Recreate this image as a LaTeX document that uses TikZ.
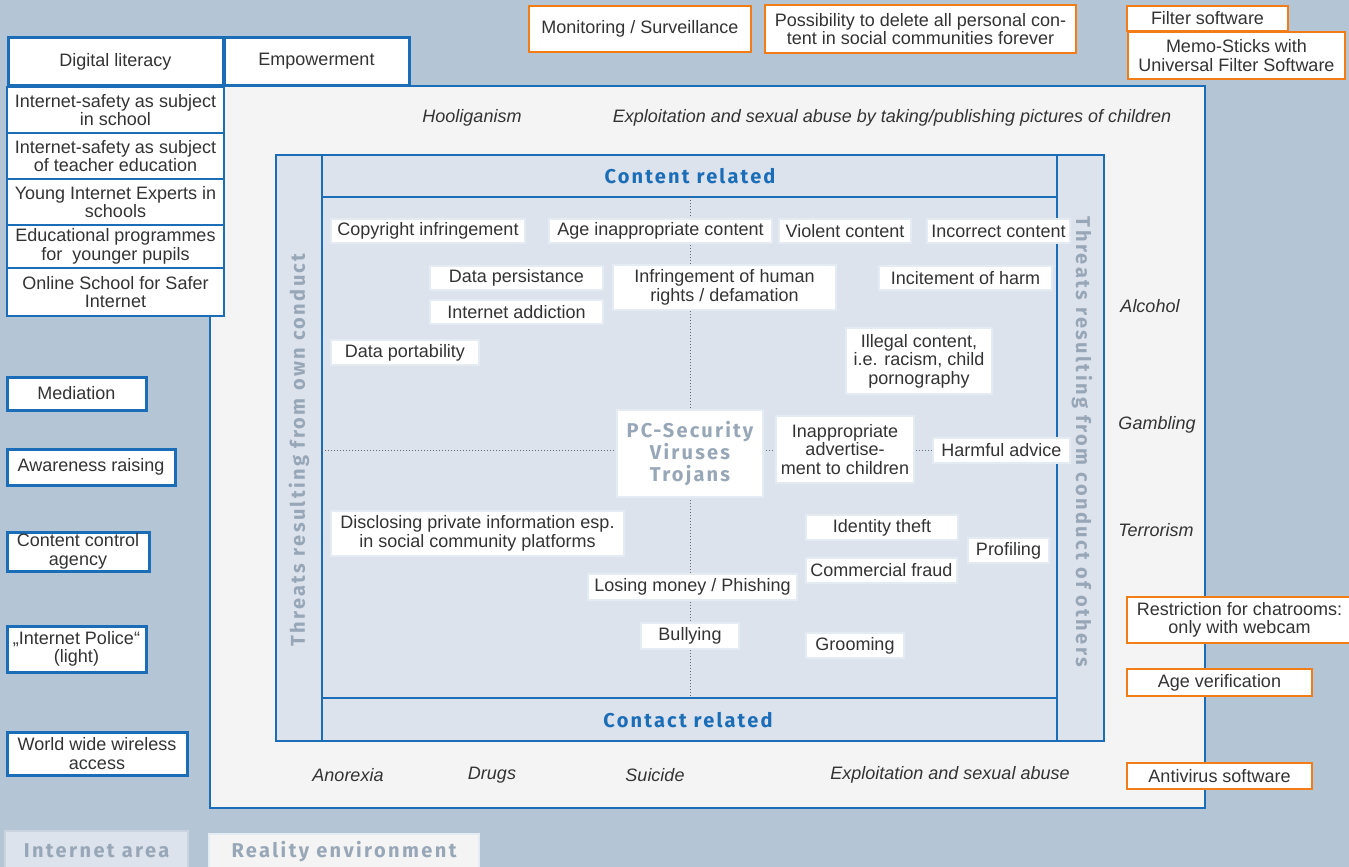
\documentclass[tikz,border=0pt]{standalone}
\usepackage{fontspec}
\setmainfont{Liberation Sans}
\newfontfamily\headfont[LetterSpace=11]{Fira Sans}
\newfontfamily\vheadfont[LetterSpace=12]{Fira Sans}
\definecolor{bg}{HTML}{B4C5D6}
\definecolor{reality}{HTML}{F4F4F4}
\definecolor{innerc}{HTML}{DCE3ED}
\definecolor{blue1}{HTML}{1A6DB6}
\definecolor{orange1}{HTML}{F27C16}
\definecolor{txt}{HTML}{333333}
\definecolor{grayhead}{HTML}{98A7B7}
\definecolor{halo}{HTML}{E5EBF2}
\definecolor{dotc}{HTML}{6A6A6A}
\definecolor{tabedge}{HTML}{C9D4E0}
\tikzset{
 base/.style={inner sep=0pt, align=center, text=txt, font=\fontsize{18}{18.5}\selectfont},
 wbox/.style={base, draw=halo, line width=2pt, fill=white},
 bbox/.style={base, draw=blue1, line width=3pt, fill=white},
 lbox/.style={base, draw=blue1, line width=1.2pt, fill=white},
 obox/.style={base, draw=orange1, line width=2.5pt, fill=white},
 tbox/.style={base, draw=orange1, line width=1.2pt, fill=white},
 ital/.style={base, font=\fontsize{18}{18.5}\selectfont\itshape},
 head/.style={inner sep=0pt, text=blue1, font=\headfont\bfseries\fontsize{20}{22}\selectfont},
 vhead/.style={inner sep=0pt, align=center, text=grayhead, font=\vheadfont\bfseries\fontsize{20}{22}\selectfont},
 axisline/.style={draw=dotc, dotted, line width=1pt},
 frameline/.style={draw=blue1, line width=1.2pt},
}
\begin{document}
\begin{tikzpicture}[x=1pt,y=-1pt]
\useasboundingbox (0,0) rectangle (1349,867);
\fill[bg] (0,0) rectangle (1349,867);

% reality environment
\draw[fill=reality, draw=blue1, line width=2.5pt] (210,86) rectangle (1205,808);
% inner grid
\draw[fill=innerc, frameline] (276,155) rectangle (1104,741);
\draw[frameline] (322,155) -- (322,741);
\draw[frameline] (1057,155) -- (1057,741);
\draw[frameline] (322,197) -- (1057,197);
\draw[frameline] (322,698) -- (1057,698);

% axes
\coordinate (vt) at (690,197);
\coordinate (vb) at (690,698);
\coordinate (hl) at (322,450);
\coordinate (hr) at (1057,450);
\draw[axisline] (vt) -- (vb);
\draw[axisline] (hl) -- (hr);

% headings
\node[head] (contenth) at (690,176) {Content related};
\node[head] (contacth) at (688,720) {Contact related};
\node[vhead, rotate=90] (ownc) at (299,450) {Threats resulting from own conduct};
\node[vhead, rotate=-90] (othc) at (1082,442) {Threats resulting from conduct of others};

% inner boxes
\node[wbox, minimum width=194, minimum height=24] (copy) at (428,231) {Copyright infringement};
\node[wbox, minimum width=223, minimum height=24] (age) at (660.5,231) {Age inappropriate content};
\node[wbox, minimum width=132, minimum height=24] (viol) at (845,231) {Violent content};
\node[wbox, minimum width=143, minimum height=24] (incor) at (998.5,231) {Incorrect content};
\node[wbox, minimum width=173, minimum height=24] (persist) at (516.5,278) {Data persistance};
\node[wbox, minimum width=173, minimum height=24] (addict) at (516.5,312) {Internet addiction};
\node[wbox, minimum width=223, minimum height=45] (infr) at (724.5,287.5) {Infringement of human\\rights / defamation};
\node[wbox, minimum width=173, minimum height=24] (incit) at (965.5,278) {Incitement of harm};
\node[wbox, minimum width=148, minimum height=25] (portab) at (405,352.5) {Data portability};
\node[wbox, minimum width=146, minimum height=66] (illegal) at (919,361) {Illegal content,\\i.e. racism, child\\pornography};
\node[wbox, minimum width=146, minimum height=87, font=\headfont\bfseries\fontsize{20}{22}\selectfont, text=grayhead] (pcsec) at (690,453.5) {PC-Security\\Viruses\\Trojans};
\node[wbox, minimum width=138, minimum height=67] (inapp) at (845,449.5) {Inappropriate\\advertise-\\ment to children};
\node[wbox, minimum width=137, minimum height=25] (harm) at (1001.5,450.5) {Harmful advice};
\node[wbox, minimum width=293, minimum height=45] (disc) at (477.5,533.5) {Disclosing private information esp.\\in social community platforms};
\node[wbox, minimum width=152, minimum height=25] (ident) at (882,527.5) {Identity theft};
\node[wbox, minimum width=81, minimum height=25] (prof) at (1008.5,550.5) {Profiling};
\node[wbox, minimum width=151, minimum height=25] (comm) at (881.5,570.5) {Commercial fraud};
\node[wbox, minimum width=209, minimum height=26] (losing) at (692.5,587) {Losing money / Phishing};
\node[wbox, minimum width=98, minimum height=26] (bully) at (690,636) {Bullying};
\node[wbox, minimum width=98, minimum height=25] (groom) at (855,645.5) {Grooming};

% italic labels
\node[ital] (hool) at (472,118) {Hooliganism};
\node[ital] (expl1) at (892,118) {Exploitation and sexual abuse by taking/publishing pictures of children};
\node[ital] (alc) at (1150,306) {Alcohol};
\node[ital] (gamb) at (1157,425) {Gambling};
\node[ital] (terr) at (1156,530) {Terrorism};
\node[ital] (anor) at (348,775) {Anorexia};
\node[ital] (drugs) at (492,775) {Drugs};
\node[ital] (suic) at (655,775) {Suicide};
\node[ital] (expl2) at (950,775) {Exploitation and sexual abuse};

% left column
\node[bbox, minimum width=215, minimum height=47] (diglit) at (115.5,61.5) {Digital literacy};
\node[bbox, minimum width=185, minimum height=47] (empow) at (316.5,61.5) {Empowerment};
\node[lbox, minimum width=217, minimum height=46] (l1) at (115.5,110) {Internet-safety as subject\\in school};
\node[lbox, minimum width=217, minimum height=46] (l2) at (115.5,156) {Internet-safety as subject\\of teacher education};
\node[lbox, minimum width=217, minimum height=46] (l3) at (115.5,202) {Young Internet Experts in\\schools};
\node[lbox, minimum width=217, minimum height=43] (l4) at (115.5,246.5) {Educational programmes\\for\ \ younger pupils};
\node[lbox, minimum width=217, minimum height=48] (l5) at (115.5,292) {Online School for Safer\\Internet};

\node[bbox, minimum width=139, minimum height=33] (med) at (76.5,393.5) {Mediation};
\node[bbox, minimum width=168, minimum height=36] (aware) at (91,467) {Awareness raising};
\node[bbox, minimum width=142, minimum height=39] (ccontrol) at (78,551.5) {Content control\\agency};
\node[bbox, minimum width=139, minimum height=46] (police) at (76.5,649) {„Internet Police“\\(light)};
\node[bbox, minimum width=180, minimum height=43] (wireless) at (97,753.5) {World wide wireless\\access};

% orange boxes
\node[obox, minimum width=222, minimum height=46] (monit) at (640,29) {Monitoring / Surveillance};
\node[obox, minimum width=311, minimum height=48] (delete) at (920.5,29) {Possibility to delete all personal con-\\tent in social communities forever};
\node[obox, minimum width=161, minimum height=25] (filter) at (1207.5,18.5) {Filter software};
\node[tbox, minimum width=217, minimum height=47] (memo) at (1236.5,55.5) {Memo-Sticks with\\Universal Filter Software};
\node[obox, minimum width=225, minimum height=46] (chat) at (1239.5,620) {Restriction for chatrooms:\\only with webcam};
\node[obox, minimum width=185, minimum height=27] (agever) at (1219.5,682.5) {Age verification};
\node[obox, minimum width=185, minimum height=26] (antivir) at (1219.5,776) {Antivirus software};

% bottom tabs
\node[vhead, draw=tabedge, line width=2pt, fill=innerc, minimum width=183, minimum height=39] (iarea) at (96.5,850.5) {Internet area};
\node[vhead, draw=halo, line width=2pt, fill=reality, minimum width=270, minimum height=36] (renv) at (344,852) {Reality environment};
\end{tikzpicture}
\end{document}
